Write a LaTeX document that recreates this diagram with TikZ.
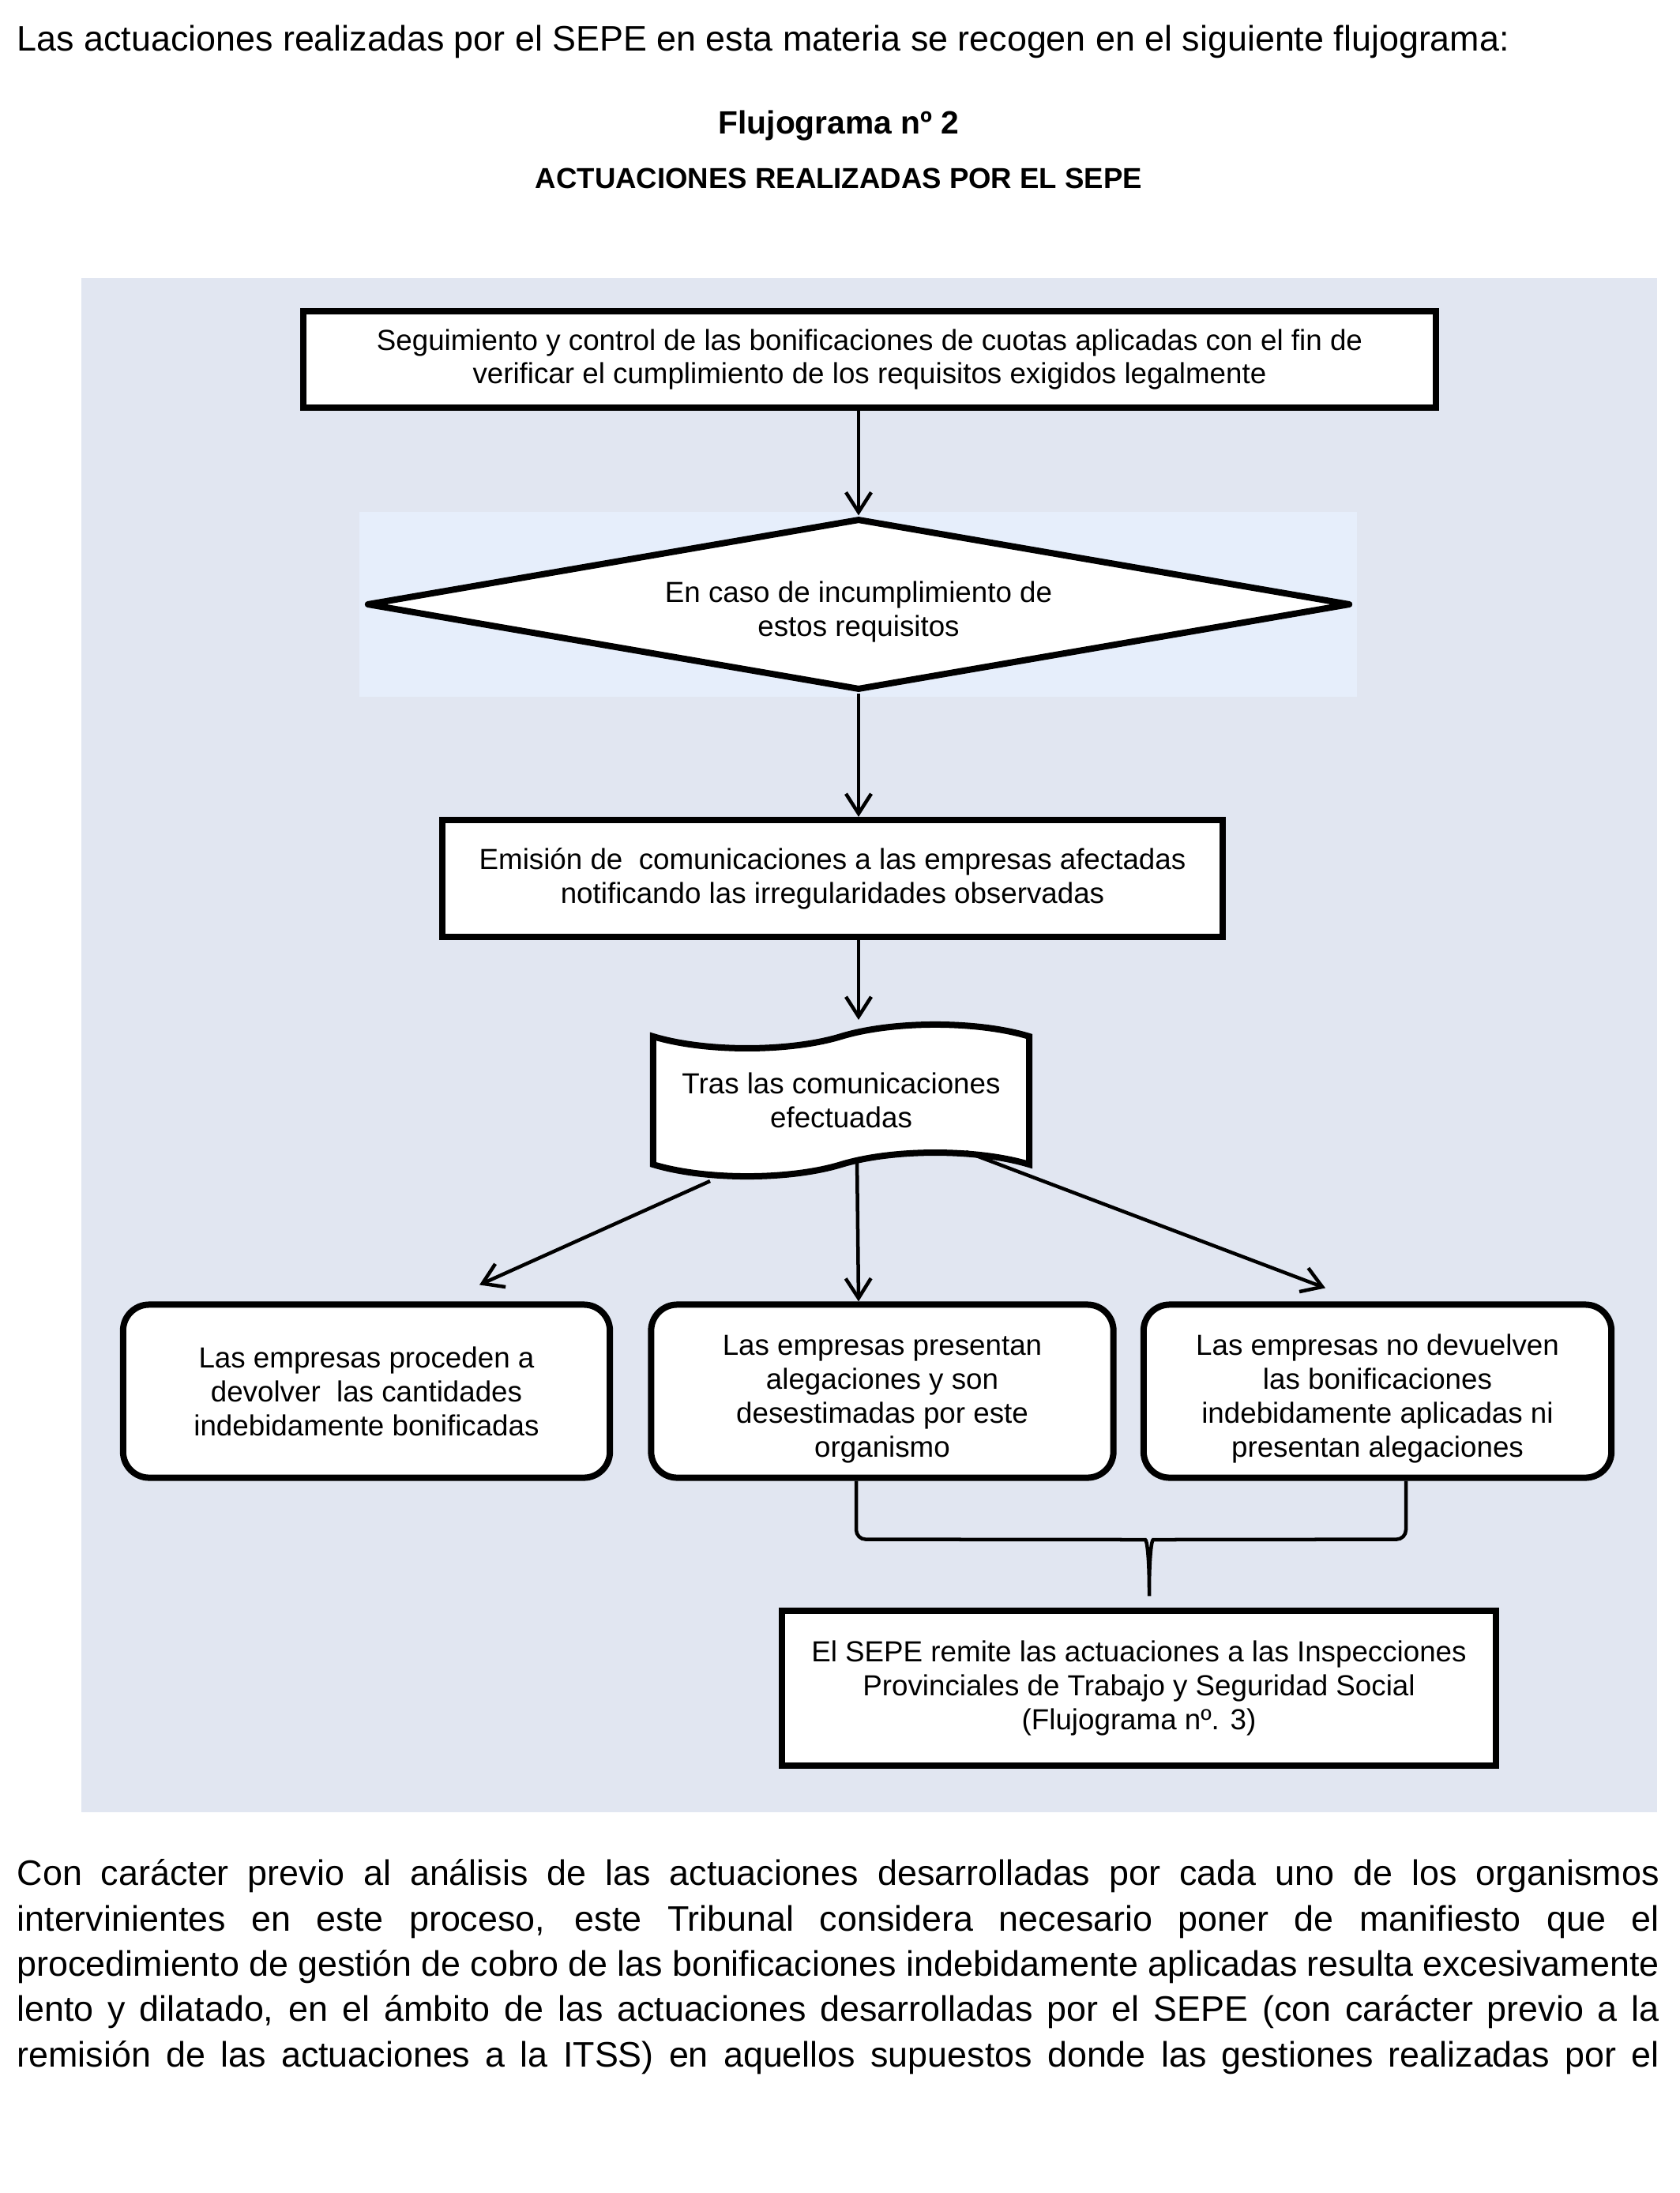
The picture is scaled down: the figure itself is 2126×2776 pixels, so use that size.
\documentclass[tikz,border=0pt]{standalone}
\usepackage{fontspec}
\setmainfont{Liberation Sans}
\usepackage{xcolor}
\usetikzlibrary{shapes.geometric, shapes.symbols, arrows.meta, calc}
\definecolor{panelblue}{RGB}{225,230,241}
\definecolor{diamondblue}{RGB}{230,238,251}
\newcommand{\topgap}[1]{\rule{0pt}{#1}}   % pushes a text block down a little
\tikzset{
  font=\fontsize{10.45}{12.2}\selectfont,        % text inside the boxes
  boxline/.style          = {draw, line width=0.08cm, fill=white,
                             align=center, inner sep=2pt},
  process/.style          = {rectangle, boxline},
  outcome/.style          = {rectangle, rounded corners=0.33cm, boxline},
  decision/.style         = {diamond, boxline, aspect=5.7, inner sep=1pt,
                             line join=round},
  papertape/.style        = {tape, boxline, tape bend height=0.3cm},
  arrow/.style            = {-{Straight Barb[length=0.25cm, width=0.32cm]},
                             line width=0.045cm},
  joinbrace/.style        = {line width=0.045cm, rounded corners=0.12cm}
}

\begin{document}
\begin{tikzpicture}[x=0.01cm, y=-0.01cm]
  \useasboundingbox (0,0) rectangle (2126,2776);
  % shaded panels
  \fill[panelblue] (103,352) rectangle (2098,2294);
  \fill[diamondblue] (455,648) rectangle (1718,882);
  % text above the chart
  \node[anchor=base west, inner sep=0pt, font=\fontsize{12.75}{15}\selectfont] (intro) at (21,65)
    {Las actuaciones realizadas por el SEPE en esta materia se recogen en el siguiente flujograma:};
  \node[anchor=base, inner sep=0pt, font=\fontsize{11.6}{14}\selectfont\bfseries] (title) at (1062,170)
    {Flujograma nº 2};
  \node[anchor=base, inner sep=0pt, font=\fontsize{10.4}{12}\selectfont\bfseries] (subtitle) at (1062,239)
    {ACTUACIONES REALIZADAS POR EL SEPE};
  % chart
  \node[process, minimum width=14.34cm, minimum height=1.22cm] (control) at (1101,455)
    {Seguimiento y control de las bonificaciones de cuotas aplicadas con el fin de\\
     verificar el cumplimiento de los requisitos exigidos legalmente};
  \node[decision, minimum width=12.45cm, minimum height=2.17cm] (check) at (1087,765)
    {\topgap{0.46cm}En caso de incumplimiento de\\estos requisitos};
  \node[process, minimum width=9.87cm, minimum height=1.48cm] (notify) at (1054,1112)
    {Emisión de\ \ comunicaciones a las empresas afectadas\\
     notificando las irregularidades observadas};
  \node[papertape, minimum width=4.76cm, minimum height=1.92cm] (after) at (1065,1393)
    {Tras las comunicaciones\\efectuadas};
  \node[outcome, minimum width=6.16cm, minimum height=2.19cm] (repay) at (464,1761)
    {Las empresas proceden a\\devolver\ \ las cantidades\\indebidamente bonificadas};
  \node[outcome, minimum width=5.85cm, minimum height=2.19cm] (appeal) at (1117,1761)
    {\topgap{0.46cm}Las empresas presentan\\alegaciones y son\\desestimadas por este\\organismo};
  \node[outcome, minimum width=5.92cm, minimum height=2.19cm] (ignore) at (1744,1761)
    {\topgap{0.46cm}Las empresas no devuelven\\las bonificaciones\\indebidamente aplicadas ni\\presentan alegaciones};
  \node[process, minimum width=9.04cm, minimum height=1.95cm] (itss) at (1442,2137)
    {El SEPE remite las actuaciones a las Inspecciones\\
     Provinciales de Trabajo y Seguridad Social\\(Flujograma nº. 3)};
  % connectors
  \draw[arrow] (control.south -| check.north) -- (check.north);
  \draw[arrow] (check.south) -- (check.south |- notify.north);
  \draw[arrow] (check.south |- notify.south) -- ($(check.south |- after.north)+(0,-18)$);
  \draw[arrow] ($(after.south)+(-166,18)$) -- ($(repay.north)+(143,-21)$);
  \draw[arrow] ($(after.south)+(20,-10)$) -- (appeal.north -| check.south);
  \draw[arrow] ($(after.south)+(158,-19)$) -- ($(ignore.north)+(-66,-17)$);
  % brace joining two outcomes
  \coordinate (tip) at ($(itss.north)+(13,-8)$);
  \draw[joinbrace] ($(appeal.south)+(-33,0)$) -- ++(0,74) -- (1438,1949)
    .. controls (1452,1949) and (1455,1970) .. (tip)
    .. controls (1455,1970) and (1458,1949) .. (1472,1949)
    -- ($(ignore.south)+(36,74)$) -- ($(ignore.south)+(36,0)$);
  % text below the chart
  \node[anchor=north west, inner sep=0pt, text width=20.78cm, align=justify,
        font=\fontsize{12.75}{16.3}\selectfont] (comment) at (21,2353)
    {\tolerance=10000 \hyphenpenalty=10000
     Con carácter previo al análisis de las actuaciones desarrolladas por cada uno de los organismos\linebreak
     intervinientes en este proceso, este Tribunal considera necesario poner de manifiesto que el\linebreak
     procedimiento de gestión de cobro de las bonificaciones indebidamente aplicadas resulta excesivamente\linebreak
     lento y dilatado, en el ámbito de las actuaciones desarrolladas por el SEPE (con carácter previo a la\linebreak
     \makebox[\hsize][s]{remisión de las actuaciones a la ITSS) en aquellos supuestos donde las gestiones realizadas por el}};
\end{tikzpicture}
\end{document}
